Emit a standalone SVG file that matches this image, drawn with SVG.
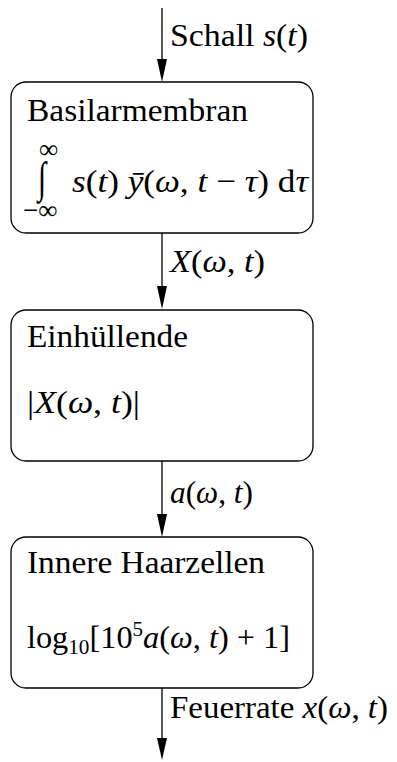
<svg xmlns="http://www.w3.org/2000/svg" width="397" height="762" viewBox="0 0 397 762">
<style>
text{font-family:"Liberation Serif","DejaVu Serif",serif;font-size:32px;fill:#000}
.i{font-style:italic}
.s{font-size:21px}
.inf{font-size:27px}
.box{fill:#fff;stroke:#000;stroke-width:1.3}
.ln{stroke:#000;stroke-width:1.3;fill:none}
.hd{fill:#000}
</style>
<g id="connectors">
<line class="ln" x1="162" y1="8" x2="162" y2="60"/><path class="hd" d="M157,59 L167,59 L162,82 Z"/>
<line class="ln" x1="162" y1="233" x2="162" y2="287"/><path class="hd" d="M157,286 L167,286 L162,309 Z"/>
<line class="ln" x1="162" y1="461" x2="162" y2="515"/><path class="hd" d="M157,514 L167,514 L162,537 Z"/>
<line class="ln" x1="162" y1="688" x2="162" y2="740"/><path class="hd" d="M157,738 L167,738 L162,760 Z"/>
<text x="170" y="46" textLength="138" lengthAdjust="spacingAndGlyphs">Schall <tspan class="i">s</tspan>(<tspan class="i">t</tspan>)</text>
<text x="170" y="272" textLength="95" lengthAdjust="spacingAndGlyphs"><tspan class="i">X</tspan>(<tspan class="i">ω</tspan>, <tspan class="i">t</tspan>)</text>
<text x="170" y="503" textLength="83" lengthAdjust="spacingAndGlyphs"><tspan class="i">a</tspan>(<tspan class="i">ω</tspan>, <tspan class="i">t</tspan>)</text>
<text x="170" y="718" textLength="218" lengthAdjust="spacingAndGlyphs">Feuerrate <tspan class="i">x</tspan>(<tspan class="i">ω</tspan>, <tspan class="i">t</tspan>)</text>
</g>
<g id="basilarmembran">
<rect class="box" x="11" y="82" width="302" height="151" rx="15"/>
<text x="27" y="121" textLength="221" lengthAdjust="spacingAndGlyphs">Basilarmembran</text>
<text x="39" y="158" class="inf">∞</text>
<text transform="translate(38,192) scale(1,1.45)" x="0" y="0" style="font-size:30px">∫</text>
<text x="23" y="219" class="inf">−∞</text>
<text x="72" y="192" textLength="236" lengthAdjust="spacingAndGlyphs"><tspan class="i">s</tspan>(<tspan class="i">t</tspan>) <tspan class="i">ȳ</tspan>(<tspan class="i">ω</tspan>, <tspan class="i">t</tspan> − <tspan class="i">τ</tspan>) d<tspan class="i">τ</tspan></text>
</g>
<g id="einhuellende">
<rect class="box" x="11" y="310" width="302" height="151" rx="15"/>
<text x="27" y="347" textLength="161" lengthAdjust="spacingAndGlyphs">Einhüllende</text>
<text x="27" y="413" textLength="113" lengthAdjust="spacingAndGlyphs">|<tspan class="i">X</tspan>(<tspan class="i">ω</tspan>, <tspan class="i">t</tspan>)|</text>
</g>
<g id="haarzellen">
<rect class="box" x="11" y="537" width="302" height="151" rx="15"/>
<text x="27" y="573" textLength="238" lengthAdjust="spacingAndGlyphs">Innere Haarzellen</text>
<text x="27" y="648" textLength="263" lengthAdjust="spacingAndGlyphs">log<tspan class="s" dy="6">10</tspan><tspan dy="-6">[10</tspan><tspan class="s" dy="-12">5</tspan><tspan class="i" dy="12">a</tspan>(<tspan class="i">ω</tspan>, <tspan class="i">t</tspan>) + 1]</text>
</g>
</svg>
